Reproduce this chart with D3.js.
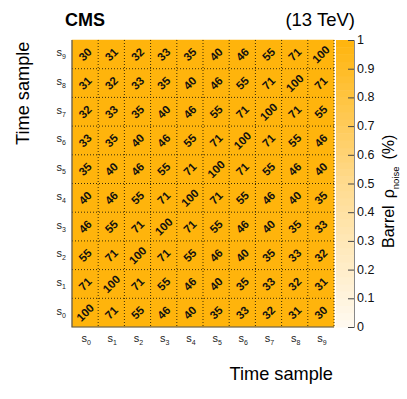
<!doctype html>
<html>
<head>
<script src="https://d3js.org/d3.v7.min.js"></script>
<style>
  body { margin: 0; background: #fff; }
  text { font-family: "Liberation Sans", Arial, sans-serif; }
</style>
</head>
<body>
<svg width="407" height="399"></svg>
<script>
// time sample labels
var samples = ["0", "1", "2", "3", "4", "5", "6", "7", "8", "9"];

// correlation in percent, row = y sample (s0 at bottom), col = x sample
var corrRows = [
  [100, 71, 55, 46, 40, 35, 33, 32, 31, 30],
  [71, 100, 71, 55, 46, 40, 35, 33, 32, 31],
  [55, 71, 100, 71, 55, 46, 40, 35, 33, 32],
  [46, 55, 71, 100, 71, 55, 46, 40, 35, 33],
  [40, 46, 55, 71, 100, 71, 55, 46, 40, 35],
  [35, 40, 46, 55, 71, 100, 71, 55, 46, 40],
  [33, 35, 40, 46, 55, 71, 100, 71, 55, 46],
  [32, 33, 35, 40, 46, 55, 71, 100, 71, 55],
  [31, 32, 33, 35, 40, 46, 55, 71, 100, 71],
  [30, 31, 32, 33, 35, 40, 46, 55, 71, 100]
];

var zTicks = [0, 0.1, 0.2, 0.3, 0.4, 0.5, 0.6, 0.7, 0.8, 0.9, 1];

var svg = d3.select("svg");
var plotL = 72, plotR = 334, plotT = 40, plotB = 327;

var xScale = d3.scaleBand().domain(samples).range([plotL, plotR]);
var yScale = d3.scaleBand().domain(samples).range([plotB, plotT]);

// z axis is 0..1 while cells hold percent, so everything saturates
var color = d3.scaleLinear()
  .domain([0, 0.5, 1])
  .range(["#fffaf1", "#ffdb8f", "#ffb40c"])
  .clamp(true);

var cells = [];
corrRows.forEach(function(row, i) {
  row.forEach(function(v, j) {
    cells.push({ x: samples[j], y: samples[i], v: v });
  });
});

svg.selectAll(".cell")
  .data(cells)
  .enter().append("rect")
  .attr("class", "cell")
  .attr("x", function(d) { return xScale(d.x); })
  .attr("y", function(d) { return yScale(d.y); })
  .attr("width", xScale.bandwidth())
  .attr("height", yScale.bandwidth())
  .attr("fill", function(d) { return color(d.v); })
  .attr("stroke", function(d) { return color(d.v); })
  .attr("stroke-width", 0.5);

// dotted grid
var grid = svg.append("g")
  .attr("stroke", "#3a2a00")
  .attr("stroke-width", 1)
  .attr("stroke-dasharray", "1,2");
samples.slice(1).forEach(function(s) {
  grid.append("line")
    .attr("x1", xScale(s)).attr("x2", xScale(s))
    .attr("y1", plotT).attr("y2", plotB);
  grid.append("line")
    .attr("x1", plotL).attr("x2", plotR)
    .attr("y1", yScale(s) + yScale.bandwidth()).attr("y2", yScale(s) + yScale.bandwidth());
});
grid.append("line").attr("x1", plotR).attr("x2", plotR).attr("y1", plotT).attr("y2", plotB);

// frame (left + bottom)
svg.append("path")
  .attr("d", "M" + plotL + "," + plotT + "V" + plotB + "H" + plotR)
  .attr("fill", "none")
  .attr("stroke", "#555")
  .attr("stroke-width", 1.2);

// cell values, rotated 45 deg
svg.selectAll(".val")
  .data(cells)
  .enter().append("text")
  .attr("class", "val")
  .attr("transform", function(d) {
    var cx = xScale(d.x) + xScale.bandwidth() / 2;
    var cy = yScale(d.y) + yScale.bandwidth() / 2;
    return "translate(" + cx + "," + cy + ") rotate(-45)";
  })
  .attr("text-anchor", "middle")
  .attr("dy", "0.36em")
  .style("font-size", "11.5px")
  .style("font-weight", "bold")
  .attr("fill", "#111")
  .text(function(d) { return d.v; });

// x tick labels
var xl = svg.selectAll(".xl")
  .data(samples)
  .enter().append("text")
  .attr("class", "xl")
  .attr("x", function(d) { return xScale(d) + xScale.bandwidth() / 2 + 1; })
  .attr("y", 342)
  .attr("text-anchor", "middle")
  .attr("fill", "#222")
  .style("font-size", "11px");
xl.append("tspan").text("s");
xl.append("tspan").attr("dy", 3).style("font-size", "7px").text(function(d) { return d; });

// y tick labels
var yl = svg.selectAll(".yl")
  .data(samples)
  .enter().append("text")
  .attr("class", "yl")
  .attr("x", 66)
  .attr("y", function(d) { return yScale(d) + yScale.bandwidth() / 2 + 2; })
  .attr("text-anchor", "end")
  .attr("fill", "#222")
  .style("font-size", "11px");
yl.append("tspan").text("s");
yl.append("tspan").attr("dy", 3).style("font-size", "7px").text(function(d) { return d; });

// axis titles
svg.append("text")
  .attr("x", 333)
  .attr("y", 380)
  .attr("text-anchor", "end")
  .style("font-size", "18.2px")
  .text("Time sample");

svg.append("text")
  .attr("transform", "translate(29,145) rotate(-90)")
  .attr("text-anchor", "start")
  .style("font-size", "18.2px")
  .text("Time sample");

// header
svg.append("text")
  .attr("x", 65)
  .attr("y", 26)
  .style("font-size", "18px")
  .style("font-weight", "bold")
  .text("CMS");

svg.append("text")
  .attr("x", 355)
  .attr("y", 26)
  .attr("text-anchor", "end")
  .style("font-size", "18.5px")
  .text("(13 TeV)");

// colour bar
var zScale = d3.scaleLinear().domain([0, 1]).range([plotB, plotT]);
var barX = 336, barW = 18, nBands = 40;
var bands = d3.range(nBands);
svg.selectAll(".band")
  .data(bands)
  .enter().append("rect")
  .attr("class", "band")
  .attr("x", barX)
  .attr("width", barW)
  .attr("y", function(d) { return zScale((d + 1) / nBands); })
  .attr("height", zScale(0) - zScale(1 / nBands) + 0.5)
  .attr("fill", function(d) { return color((d + 0.5) / nBands); });

var zAxis = svg.append("g")
  .attr("transform", "translate(" + (barX + barW) + ",0)")
  .call(d3.axisLeft(zScale).tickValues(zTicks).tickSize(6).tickFormat(""));
zAxis.select(".domain").attr("stroke", "#888");
zAxis.selectAll(".tick line").attr("stroke", "#444");

svg.selectAll(".zl")
  .data(zTicks)
  .enter().append("text")
  .attr("class", "zl")
  .attr("x", barX + barW + 3)
  .attr("y", function(d) { return zScale(d) + 4; })
  .style("font-size", "12.5px")
  .attr("fill", "#111")
  .text(function(d) { return d; });

var zt = svg.append("text")
  .attr("transform", "translate(394,248) rotate(-90)")
  .attr("text-anchor", "start")
  .style("font-size", "16px");
zt.append("tspan").text("Barrel");
zt.append("tspan").attr("dx", 7).text("\u03C1");
zt.append("tspan").attr("dy", 5).style("font-size", "9.5px").text("noise");
zt.append("tspan").attr("dy", -5).attr("dx", 7).text("(%)");
</script>
</body>
</html>
